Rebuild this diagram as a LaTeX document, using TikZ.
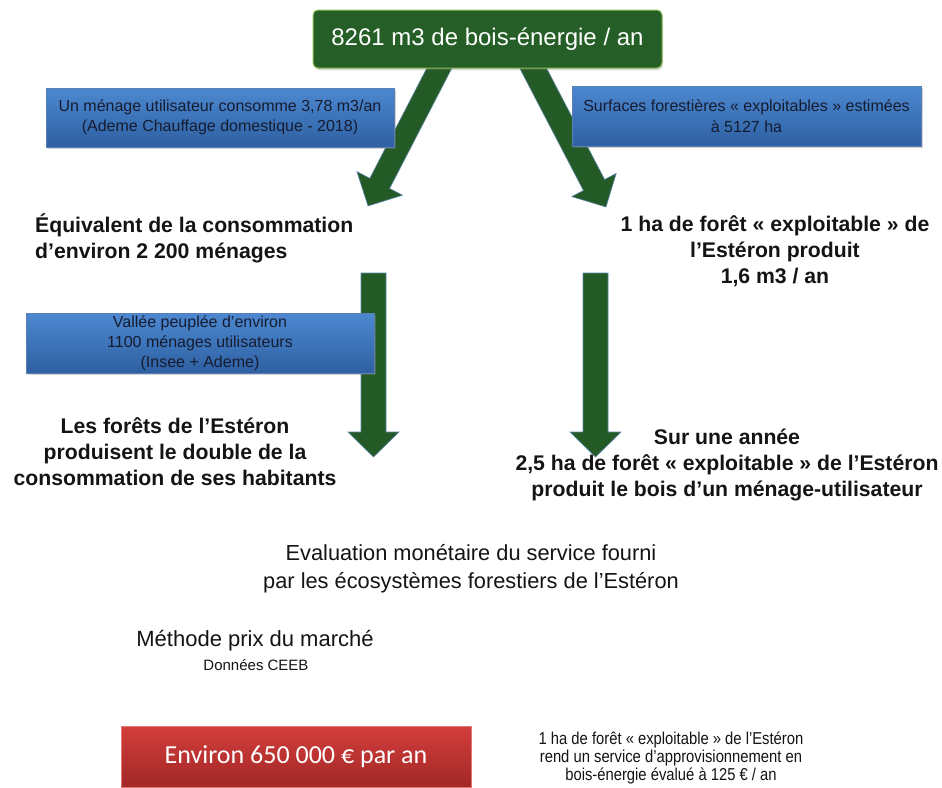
\documentclass[tikz,border=0pt]{standalone}
\usepackage{fontspec}
\setmainfont{Liberation Sans}
\newfontfamily\calib{Carlito}
\newfontfamily\narrowf[FakeStretch=0.86]{Liberation Sans}
\usetikzlibrary{shadows}
\definecolor{topgreen}{RGB}{37,94,38}
\definecolor{topborder}{RGB}{140,190,80}
\definecolor{arrgreen}{RGB}{36,90,37}
\definecolor{arredge}{RGB}{95,135,175}
\definecolor{bluetop}{RGB}{76,136,208}
\definecolor{bluebot}{RGB}{46,96,162}
\definecolor{bluetext}{RGB}{22,28,48}
\definecolor{redtop}{RGB}{210,62,60}
\definecolor{redbot}{RGB}{162,40,38}
\definecolor{txt}{RGB}{20,20,20}
\tikzset{
  blockarrow/.style={fill=arrgreen, draw=arredge, line width=0.6pt, line join=miter},
  bluebox/.style={rectangle, top color=bluetop, bottom color=bluebot, draw=bluebot!80!white, line width=0.4pt,
     text=bluetext, align=center, inner sep=0pt,
     drop shadow={opacity=0.35, shadow xshift=1.5pt, shadow yshift=-2pt},
     font=\fontsize{16}{20.5}\selectfont},
  boldtxt/.style={text=txt, align=center, inner sep=0pt, font=\fontsize{21.2}{26}\selectfont\bfseries},
  plaintxt/.style={text=txt, align=center, inner sep=0pt}
}
\begin{document}
\begin{tikzpicture}[x=1pt,y=-1pt]
\useasboundingbox (0,0) rectangle (942,787);
\fill[white] (0,0) rectangle (942,787);

% diagonal arrows
\draw[blockarrow] (431.0,60) -- (456.1,60) -- (389.6,188.5) -- (402.5,195.2) -- (368,206)
   -- (356.9,171.6) -- (369.8,178.3) -- cycle;
\draw[blockarrow] (515.4,60) -- (542.3,60) -- (604.6,179.5) -- (616.2,173.4) -- (606,207)
   -- (571.8,196.6) -- (583.4,190.5) -- cycle;
% vertical arrows
\draw[blockarrow] (361,273) -- (386,273) -- (386,432) -- (399,432) -- (373.5,457)
   -- (348,432) -- (361,432) -- cycle;
\draw[blockarrow] (583,273) -- (608,273) -- (608,432) -- (621,432) -- (595.5,457)
   -- (570,432) -- (583,432) -- cycle;

% top box
\node[rectangle, rounded corners=5pt, fill=topgreen, draw=topborder, line width=1pt,
      minimum width=349pt, minimum height=58pt, inner sep=0pt, text=white,
      drop shadow={opacity=0.3, shadow xshift=1pt, shadow yshift=-2pt},
      font=\fontsize{24}{28}\selectfont] (top) at (487.5,39) {8261 m3 de bois-énergie / an};

% blue boxes
\node[bluebox, minimum width=348pt, minimum height=59pt] (b1) at (220,117.5)
  {Un ménage utilisateur consomme 3,78 m3/an\\(Ademe Chauffage domestique - 2018)};
\node[bluebox, minimum width=349pt, minimum height=60pt] (b2) at (746.5,116)
  {Surfaces forestières « exploitables » estimées\\à 5127 ha};
\node[bluebox, minimum width=348pt, minimum height=60pt, font=\fontsize{16}{20}\selectfont] (b3) at (200,343)
  {Vallée peuplée d’environ\\1100 ménages utilisateurs\\(Insee + Ademe)};

% bold texts
\node[boldtxt, align=left, anchor=west] (t1) at (35,238)
  {Équivalent de la consommation\\d’environ 2 200 ménages};
\node[boldtxt] (t2) at (775,251)
  {1 ha de forêt « exploitable » de\\l’Estéron produit\\1,6 m3 / an};
\node[boldtxt] (t3) at (175,452)
  {Les forêts de l’Estéron\\produisent le double de la\\consommation de ses habitants};
\node[boldtxt] (t4) at (727,465)
  {Sur une année\\2,5 ha de forêt « exploitable » de l’Estéron\\produit le bois d’un ménage-utilisateur};

% evaluation
\node[plaintxt, font=\fontsize{21.8}{28}\selectfont] (ev) at (471,569)
  {Evaluation monétaire du service fourni\\par les écosystèmes forestiers de l’Estéron};
\node[plaintxt, font=\fontsize{22}{26}\selectfont] (meth) at (255,641) {Méthode prix du marché};
\node[plaintxt, font=\fontsize{15}{18}\selectfont] (ceeb) at (256,665) {Données CEEB};

% red box
\node[rectangle, top color=redtop, bottom color=redbot, draw=redtop!70!white, line width=0.4pt,
      minimum width=350pt, minimum height=61pt, inner sep=0pt, text=white,
      font=\calib\fontsize{26}{30}\selectfont] (red) at (296,756.5) {Environ 650 000 € par an};

\node[plaintxt, font=\narrowf\fontsize{17.2}{18}\selectfont] (svc) at (671,758)
  {1 ha de forêt « exploitable » de l’Estéron\\rend un service d’approvisionnement en\\bois-énergie évalué à 125 € / an};
\end{tikzpicture}
\end{document}
